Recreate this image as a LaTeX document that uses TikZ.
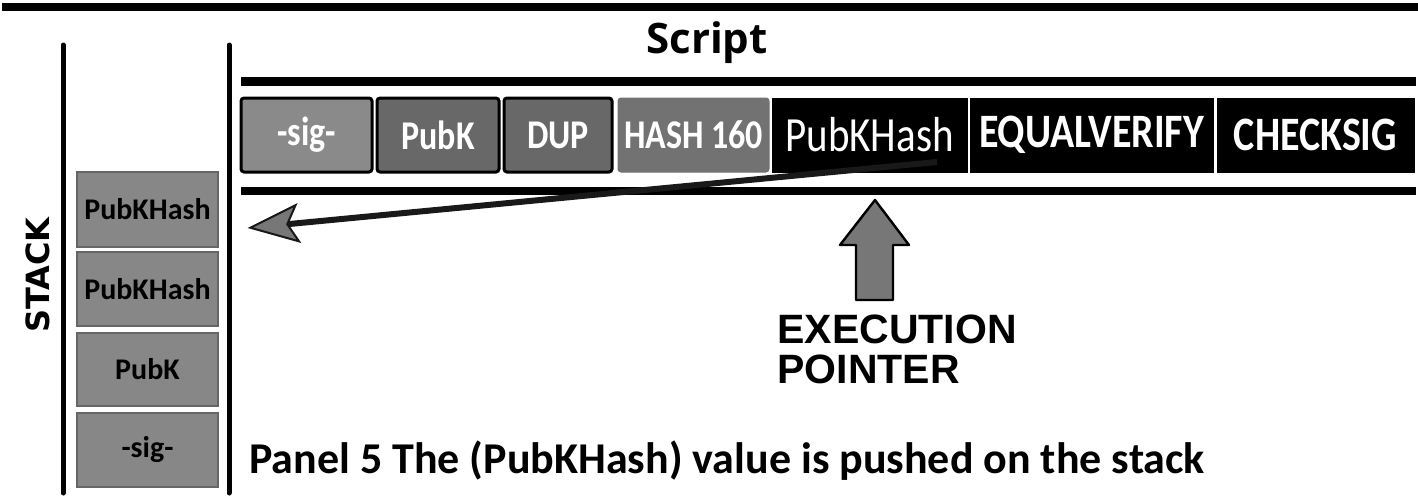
\documentclass[tikz,border=0pt]{standalone}
\usepackage{fontspec}
\usepackage{graphicx}
\setmainfont{Carlito}
\newfontfamily\osfont{Open Sans}
\newfontfamily\arfont{Liberation Sans}
\newfontfamily\dvfont{DejaVu Sans}
\newcommand{\vstretch}[1]{\scalebox{1}[1.2]{#1}}
\usetikzlibrary{arrows.meta,calc}
\definecolor{siggray}{HTML}{8A8A8A}
\definecolor{darkgray}{HTML}{686868}
\definecolor{hashgray}{HTML}{727272}
\definecolor{stackgray}{HTML}{878787}
\definecolor{tipgray}{HTML}{777777}
\tikzset{
  rule/.style={line width=4pt},
  vline/.style={line width=2.5pt, line cap=round},
  sbox/.style={draw=black, line width=1.5pt, rounded corners=1.5pt, minimum height=37pt, inner sep=0pt, text=white, font=\bfseries\fontsize{17pt}{20pt}\selectfont},
  kbox/.style={fill=black, draw=black, line width=0.5pt, minimum height=37pt, inner sep=0pt, text=white, font=\bfseries\fontsize{20pt}{24pt}\selectfont},
  stk/.style={fill=stackgray, draw=black!60, line width=0.6pt, minimum width=70.5pt, inner sep=0pt, font=\bfseries\fontsize{15pt}{18pt}\selectfont},
  ptr/.style={fill=tipgray, draw=black, line width=1.2pt, line join=round},
  push/.style={draw=black!90, line width=3pt, -{Stealth[length=26pt, width=20pt, inset=5.5pt, fill=tipgray, line width=1pt]}},
  eptxt/.style={inner sep=0pt, anchor=base west, font=\arfont\bfseries\fontsize{20.5pt}{24pt}\selectfont}
}
\begin{document}
\begin{tikzpicture}[x=0.5pt,y=-0.5pt]
\useasboundingbox (0,0) rectangle (1418,499);
% top rule
\coordinate (topL) at (2,7);
\coordinate (topR) at (1418,7);
\draw[rule] (topL) -- (topR);
% vertical stack lines
\coordinate (v1a) at (63,45);
\coordinate (v1b) at (63,493);
\coordinate (v2a) at (229,45);
\coordinate (v2b) at (229,493);
\draw[vline] (v1a) -- (v1b);
\draw[vline] (v2a) -- (v2b);
% STACK label
\node[rotate=90, inner sep=0pt, font=\dvfont\bfseries\fontsize{16pt}{20pt}\selectfont] (stacklbl) at (38,275) {STACK};
% Script title
\node[inner sep=0pt, anchor=base, font=\osfont\bfseries\fontsize{21pt}{24pt}\selectfont] (scripttitle) at (707,53) {Script};
% script bars
\coordinate (b1L) at (241,81.5);
\coordinate (b1R) at (1416,81.5);
\coordinate (b2L) at (241,191);
\coordinate (b2R) at (1416,191);
\draw[line width=4.5pt] (b1L) -- (b1R);
\draw[line width=4pt] (b2L) -- (b2R);
% script boxes
\node[sbox, fill=siggray, minimum width=65.5pt] (sig) at (306.5,135) {\vstretch{-sig-}};
\node[sbox, fill=darkgray, minimum width=61pt] (pubk) at (438,135) {\vstretch{PubK}};
\node[sbox, fill=darkgray, minimum width=54pt] (dup) at (558,135) {\vstretch{DUP}};
\node[sbox, fill=hashgray, draw=hashgray, line width=0.5pt, minimum width=75.5pt] (hash) at (693.5,135) {\vstretch{HASH 160}};
\node[kbox, minimum width=97.5pt, font=\mdseries\fontsize{20.5pt}{24pt}\selectfont] (pkh) at (869.5,135) {\vstretch{PubKHash}};
\node[kbox, minimum width=121.5pt] (eqv) at (1091.5,135) {\vstretch{EQUALVERIFY}};
\node[kbox, minimum width=98.5pt] (chk) at (1315.5,135) {\vstretch{CHECKSIG}};
% stack boxes
\node[stk, minimum height=37.5pt] (s1) at (147.5,209.5) {PubKHash};
\node[stk, minimum height=37pt] (s2) at (147.5,289) {PubKHash};
\node[stk, minimum height=36.5pt] (s3) at (147.5,369.5) {PubK};
\node[stk, minimum height=37pt] (s4) at (147.5,450) {-sig-};
% push arrow
\coordinate (src) at ($(pkh.center)+(67.5,27)$);
\coordinate (dst) at ($(s1.east)+(29,18.5)$);
\draw[push] (src) -- (dst);
% execution pointer
\coordinate (ep) at (875,200);
\draw[ptr] (ep) -- ++(34,45) -- ++(-16,0) -- ++(0,55) -- ++(-37,0) -- ++(0,-55) -- ++(-16,0) -- cycle;
\node[eptxt] (ex1) at (777,343) {EXECUTION};
\node[eptxt] (ex2) at (777,383) {POINTER};
% caption
\node[inner sep=0pt, anchor=base west, font=\bfseries\fontsize{22pt}{26pt}\selectfont] (cap) at (249,473) {Panel 5 The (PubKHash) value is pushed on the stack};
\end{tikzpicture}
\end{document}
